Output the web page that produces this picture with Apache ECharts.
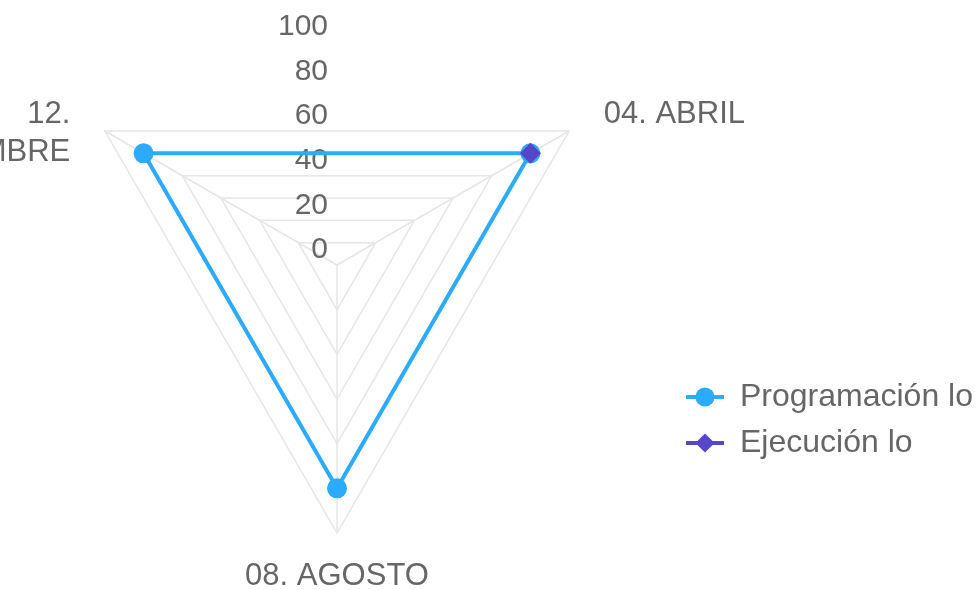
<!DOCTYPE html>
<html>
<head>
<meta charset="utf-8">
<script src="https://cdn.jsdelivr.net/npm/echarts@6/dist/echarts.min.js"></script>
<style>
html,body{margin:0;padding:0;background:#fff;}
#chart{width:979px;height:590px;}
</style>
</head>
<body>
<div id="chart"></div>
<script>
// Data (natural month order, drawn clockwise starting at the upper right)
var months = ['04. ABRIL', '08. AGOSTO', '12. DICIEMBRE'];
var programacion = [100, 100, 100];
var ejecucion = [100, '-', '-'];
var tickLabels = ['0', '20', '40', '60', '80', '100'];
var seriesNames = ['Programación lo', 'Ejecución lo'];
var scaleMin = 0, scaleMax = 120, scaleStep = 20;

var BLUE = '#2aabfc';
var PURPLE = '#5547c7';
var TEXT = '#666666';
var GRID = '#e6e6e6';
var FONT = '"Liberation Sans", Arial, Helvetica, sans-serif';

// ECharts radar lays indicators out counter-clockwise; reorder so months run clockwise
var n = months.length;
var radarOrder = months.map(function (_, i) { return (n - i) % n; });
function toRadar(arr) { return radarOrder.map(function (k) { return arr[k]; }); }

var chart = echarts.init(document.getElementById('chart'), null, {renderer: 'canvas'});

var option = {
  animation: false,
  backgroundColor: '#ffffff',
  legend: {
    orient: 'vertical',
    left: 679,
    top: 373,
    itemWidth: 38,
    itemHeight: 24,
    itemGap: 8,
    data: seriesNames,
    lineStyle: {width: 4},
    textStyle: {color: TEXT, fontSize: 32, fontFamily: FONT, lineHeight: 38, padding: [0, 0, 0, 11]}
  },
  radar: {
    center: [337, 265],
    radius: 268,
    startAngle: 30,
    splitNumber: (scaleMax - scaleMin) / scaleStep,
    shape: 'polygon',
    nameGap: 40,
    axisName: {
      color: TEXT,
      fontSize: 31,
      fontFamily: FONT,
      lineHeight: 38,
      verticalAlign: 'middle',
      formatter: function (name) {
        var parts = name.length > 10 ? ['', name.replace(' ', '\n')] : [name];
        var txt = parts.join('\n');
        return txt.split('\n').map(function (l) { return '{n|' + l + '}'; }).join('\n');
      },
      rich: {
        n: {color: TEXT, fontSize: 31, fontFamily: FONT, lineHeight: 38, padding: [7, 0, 0, 0]}
      }
    },
    indicator: toRadar(months).map(function (m) { return {name: m, min: scaleMin, max: scaleMax}; }),
    axisLine: {lineStyle: {color: GRID, width: 1.5}},
    splitLine: {lineStyle: {color: GRID, width: 1.5}},
    splitArea: {show: false},
    axisTick: {show: false},
    axisLabel: {show: false}
  },
  polar: {center: [337, 265], radius: 268},
  angleAxis: {
    type: 'category',
    data: months,
    startAngle: 90,
    clockwise: true,
    boundaryGap: true,
    show: false
  },
  radiusAxis: {
    min: scaleMin,
    max: scaleMax,
    interval: scaleStep,
    axisLine: {show: false},
    axisTick: {show: false},
    splitLine: {show: false},
    axisLabel: {
      show: true,
      color: TEXT,
      fontSize: 30,
      fontFamily: FONT,
      margin: 9,
      lineHeight: 30,
      verticalAlign: 'bottom',
      formatter: function (v) {
        var s = String(v);
        return tickLabels.indexOf(s) >= 0 ? s : '';
      }
    }
  },
  series: [
    {
      // legend-only entry (no data) so the legend shows a line + marker icon
      type: 'line', coordinateSystem: 'polar', name: seriesNames[0], data: [],
      color: BLUE, symbol: 'circle', symbolSize: 20, lineStyle: {width: 4}
    },
    {
      type: 'radar',
      name: seriesNames[0],
      color: BLUE,
      symbol: 'circle',
      symbolSize: 20,
      lineStyle: {width: 4, color: BLUE},
      itemStyle: {color: BLUE},
      data: [{value: toRadar(programacion), name: seriesNames[0]}]
    },
    {
      type: 'line',
      coordinateSystem: 'polar',
      name: seriesNames[1],
      color: PURPLE,
      symbol: 'diamond',
      symbolSize: 21,
      showAllSymbol: true,
      connectNulls: false,
      lineStyle: {width: 4, color: PURPLE},
      itemStyle: {color: PURPLE},
      data: ejecucion
    }
  ]
};
chart.setOption(option);
</script>
</body>
</html>
